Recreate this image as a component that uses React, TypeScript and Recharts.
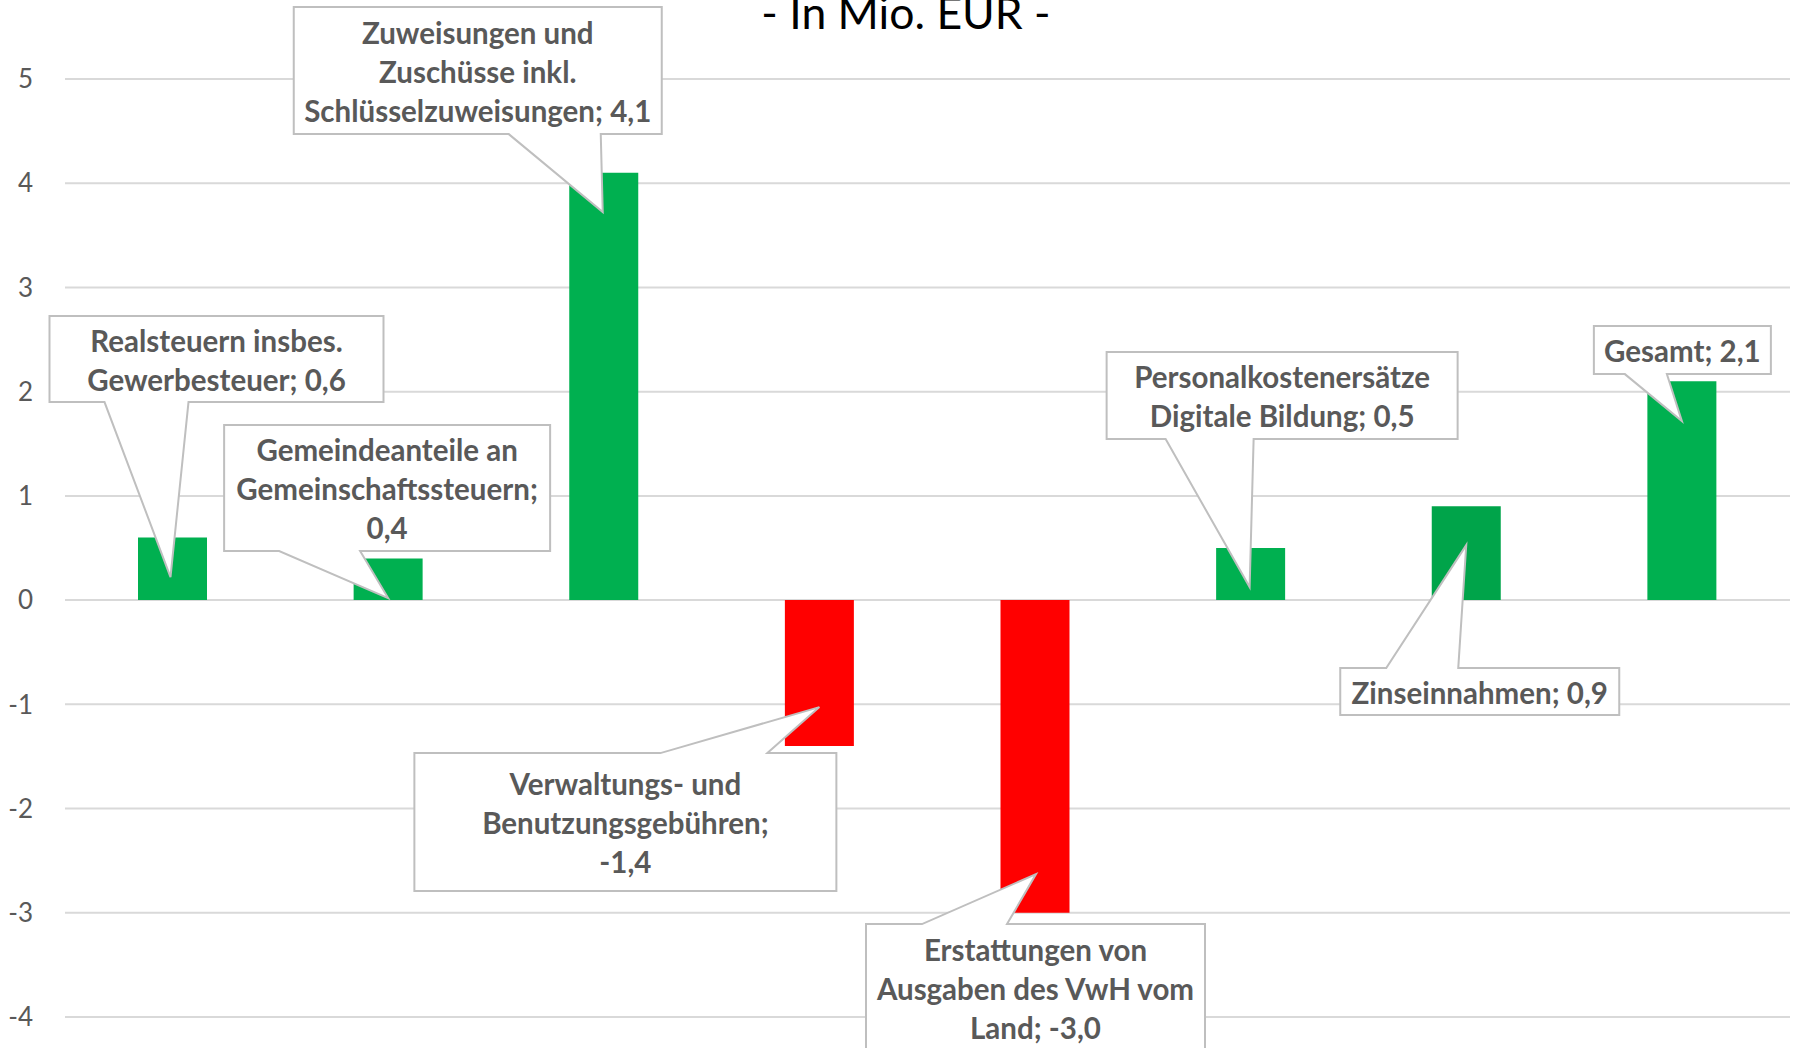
import { BarChart, Bar, XAxis, YAxis, CartesianGrid, Cell, LabelList } from "recharts";

// categories and values (Mio. EUR)
const categories = [
	"Realsteuern insbes. Gewerbesteuer",
	"Gemeindeanteile an Gemeinschaftssteuern",
	"Zuweisungen und Zuschüsse inkl. Schlüsselzuweisungen",
	"Verwaltungs- und Benutzungsgebühren",
	"Erstattungen von Ausgaben des VwH vom Land",
	"Personalkostenersätze Digitale Bildung",
	"Zinseinnahmen",
	"Gesamt",
];
const values = [0.6, 0.4, 4.1, -1.4, -3.0, 0.5, 0.9, 2.1];
const barColors = ["#00B050", "#00B050", "#00B050", "#FF0000", "#FF0000", "#00B050", "#00A44A", "#00B050"];
const yTicks = [-4, -3, -2, -1, 0, 1, 2, 3, 4, 5];

// callout placement, relative to bar centre (x) and zero line (y)
// box: [dx, dy, w, h]; base: pointer base x offsets on the box edge; tip: pointer tip; lines: words per line
const callouts = [
	{ box: [-123, -284, 334, 86], side: "bottom", base: [-68, 16], tip: [-2, -23], lines: [2, 2] },
	{ box: [-164, -175, 326, 126], side: "bottom", base: [-109, -28], tip: [0, -2], lines: [2, 1, 1] },
	{ box: [-310, -593, 368, 127], side: "bottom", base: [-95, -3], tip: [-1, -388], lines: [2, 2, 2] },
	{ box: [-405, 153, 422, 138], side: "top", base: [-159, -52], tip: [0, 107], lines: [2, 1, 1] },
	{ box: [-169, 324, 339, 128], side: "top", base: [-113, -28], tip: [1, 274], lines: [2, 4, 2] },
	{ box: [-144, -248, 351, 87], side: "bottom", base: [-85, 3], tip: [-1, -13], lines: [1, 3] },
	{ box: [-126, 68, 279, 47], side: "top", base: [-80, -8], tip: [0, -55], lines: [2] },
	{ box: [-88, -274, 177, 48], side: "bottom", base: [-57, -15], tip: [0, -179], lines: [2] },
];

const data = categories.map((name, i) => ({ name, value: values[i] }));

const fmt = (v: number) => v.toFixed(1).replace(".", ",");

function Callout(props: any) {
	const { index, value } = props;
	const vb = props.viewBox && props.viewBox.width != null ? props.viewBox : props;
	const x = Number(vb.x), y = Number(vb.y), w = Number(vb.width), h = Number(vb.height);
	const top = Math.min(y, y + h);
	const bottom = Math.max(y, y + h);
	const cx = x + w / 2;
	const y0 = value >= 0 ? bottom : top;
	const c = callouts[index];
	if (!c) return null;

	const L = cx + c.box[0];
	const T = y0 + c.box[1];
	const R = L + c.box[2];
	const B = T + c.box[3];
	const b1 = cx + c.base[0];
	const b2 = cx + c.base[1];
	const tx = cx + c.tip[0];
	const ty = y0 + c.tip[1];

	const d =
		c.side === "bottom"
			? `M${L},${T} H${R} V${B} H${b2} L${tx},${ty} L${b1},${B} H${L} Z`
			: `M${L},${T} H${b1} L${tx},${ty} L${b2},${T} H${R} V${B} H${L} Z`;

	// wrap "name; value" into lines
	const words = `${categories[index]}; ${fmt(value)}`.split(" ");
	const lines: string[] = [];
	let k = 0;
	c.lines.forEach((n) => {
		lines.push(words.slice(k, k + n).join(" "));
		k += n;
	});
	const lh = 39;
	const midY = (T + B) / 2 + 2;
	const firstY = midY - ((lines.length - 1) * lh) / 2;

	return (
		<g>
			<path d={d} fill="#FFFFFF" stroke="#BFBFBF" strokeWidth={2} />
			{lines.map((ln, i) => (
				<text
					key={i}
					x={(L + R) / 2}
					y={firstY + i * lh}
					dy="0.35em"
					textAnchor="middle"
					fontSize={29.5}
					fontWeight={700}
					fill="#595959"
				>
					{ln}
				</text>
			))}
		</g>
	);
}

export default function App() {
	return (
		<div style={{ position: "relative", width: 1796, height: 1048, fontFamily: "Lato, sans-serif", background: "#fff" }}>
			<style>{"body{margin:0;}"}</style>
			<BarChart width={1796} height={1048} data={data} margin={{ top: 79, right: 6, bottom: 31, left: 0 }}>
				<CartesianGrid vertical={false} stroke="#D9D9D9" strokeWidth={2} />
				<XAxis dataKey="name" hide />
				<YAxis
					width={65}
					domain={[-4, 5]}
					ticks={yTicks}
					axisLine={false}
					tickLine={false}
					tickMargin={26}
					tick={{ fontSize: 26, fill: "#595959" }}
					interval={0}
				/>
				<Bar dataKey="value" barSize={69} isAnimationActive={false}>
					{data.map((d, i) => (
						<Cell key={d.name} fill={barColors[i]} />
					))}
					<LabelList dataKey="value" content={(p: any) => <Callout {...p} />} />
				</Bar>
			</BarChart>
			<svg width={1796} height={60} style={{ position: "absolute", left: 0, top: 0, pointerEvents: "none" }}>
				<text x={906} y={29} textAnchor="middle" fontSize={44.5} fill="#000000">
					- In Mio. EUR -
				</text>
			</svg>
		</div>
	);
}
